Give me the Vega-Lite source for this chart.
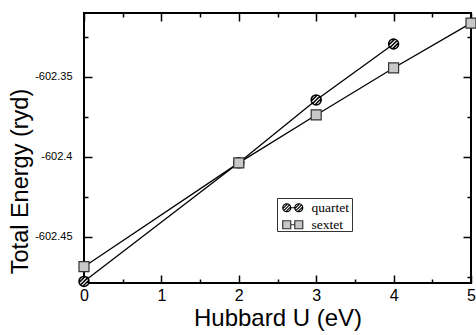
{
  "$schema": "https://vega.github.io/schema/vega-lite/v6.json",
  "width": 387,
  "height": 270,
  "autosize": "none",
  "padding": {"left": 84, "top": 13, "right": 5, "bottom": 52},
  "background": "white",
  "config": {
    "view": {"stroke": "black", "strokeWidth": 2},
    "axis": {"domain": false, "grid": false, "labelColor": "black", "titleColor": "black", "tickColor": "black", "titleFontWeight": "normal", "labelFont": "Liberation Sans", "titleFont": "Liberation Sans", "labelFlush": false, "labelOverlap": false},
    "legend": {"orient": "none", "symbolSize": 64, "symbolOffset": 6, "labelOffset": 12, "labelFont": "Liberation Serif", "labelFontSize": 13.5, "labelColor": "black", "symbolStrokeColor": "black", "symbolStrokeWidth": 1.2, "padding": 3}
  },
  "data": {
    "values": [
      {"series": "quartet", "U": 0, "E": -602.478},
      {"series": "quartet", "U": 2, "E": -602.4038},
      {"series": "quartet", "U": 3, "E": -602.3644},
      {"series": "quartet", "U": 4, "E": -602.3294},
      {"series": "sextet", "U": 0, "E": -602.4688},
      {"series": "sextet", "U": 2, "E": -602.4038},
      {"series": "sextet", "U": 3, "E": -602.3738},
      {"series": "sextet", "U": 4, "E": -602.3444},
      {"series": "sextet", "U": 5, "E": -602.3163}
    ]
  },
  "resolve": {"axis": {"x": "independent", "y": "independent"}, "scale": {"fill": "independent"}, "legend": {"fill": "independent"}},
  "layer": [
    {
      "mark": {"type": "line", "color": "black", "strokeWidth": 1.3},
      "encoding": {
        "x": {"field": "U", "type": "quantitative", "scale": {"domain": [0, 5], "nice": false, "zero": false},
          "axis": {"orient": "bottom", "values": [0, 1, 2, 3, 4, 5], "ticks": false, "tickSize": 0, "labelPadding": 4, "labelFontSize": 16, "title": "Hubbard U (eV)", "titleFontSize": 24, "titlePadding": 3}},
        "y": {"field": "E", "type": "quantitative", "scale": {"domain": [-602.479, -602.31], "nice": false, "zero": false},
          "axis": {"orient": "left", "values": [-602.45, -602.4, -602.35], "ticks": false, "tickSize": 0, "labelPadding": 12, "labelFontSize": 11, "labelExpr": "'' + datum.value", "title": "Total Energy (ryd)", "titleFontSize": 23.5, "titleX": -52, "titleY": 168}},
        "detail": {"field": "series", "type": "nominal"}
      }
    },
    {
      "transform": [{"filter": "datum.series === 'quartet'"}],
      "mark": {"type": "point", "filled": true, "stroke": "black", "strokeWidth": 1.5, "size": 100, "opacity": 1, "shape": "M-1,0A1,1,0,1,1,1,0A1,1,0,1,1,-1,0Z M-0.707,0.707L0.707,-0.707 M-0.218,0.976L0.976,-0.218 M-0.976,0.218L0.218,-0.976"},
      "encoding": {
        "x": {"field": "U", "type": "quantitative", "axis": {"orient": "top", "values": [0, 1, 2, 3, 4, 5], "labels": false, "tickSize": -8, "tickWidth": 1.5, "title": null}},
        "y": {"field": "E", "type": "quantitative", "axis": {"orient": "right", "values": [-602.45, -602.4, -602.35], "labels": false, "tickSize": -8, "tickWidth": 1.5, "title": null}},
        "fill": {"field": "series", "type": "nominal", "scale": {"domain": ["quartet"], "range": ["white"]},
          "legend": {"legendX": 193, "legendY": 185, "title": " ", "titleOrient": "bottom", "titleFontSize": 12, "titlePadding": 3, "strokeColor": "#333", "fillColor": "white", "symbolType": "M-2.5,0A1,1,0,1,1,-0.5,0A1,1,0,1,1,-2.5,0Z M-2.207,0.707L-0.793,-0.707 M-1.718,0.976L-0.524,-0.218 M-2.476,0.218L-1.282,-0.976 M-0.5,0L0.5,0 M0.5,0A1,1,0,1,1,2.5,0A1,1,0,1,1,0.5,0Z M0.793,0.707L2.207,-0.707 M1.282,0.976L2.476,-0.218 M0.524,0.218L1.718,-0.976"}}
      }
    },
    {
      "transform": [{"filter": "datum.series === 'sextet'"}],
      "mark": {"type": "point", "filled": true, "stroke": "#333", "strokeWidth": 1.2, "size": 100, "opacity": 1, "shape": "square"},
      "encoding": {
        "x": {"field": "U", "type": "quantitative", "axis": null},
        "y": {"field": "E", "type": "quantitative", "axis": null},
        "fill": {"field": "series", "type": "nominal", "scale": {"domain": ["sextet"], "range": ["#c8c8c8"]},
          "legend": {"legendX": 193, "legendY": 202, "title": null, "symbolStrokeColor": "#333", "symbolType": "M-2.5,-1H-0.5V1H-2.5Z M-0.5,0H0.5 M0.5,-1H2.5V1H0.5Z"}}
      }
    },
    {
      "mark": {"type": "point", "opacity": 0},
      "encoding": {
        "x": {"field": "U", "type": "quantitative", "axis": {"orient": "bottom", "values": [0, 1, 2, 3, 4, 5], "labels": false, "tickSize": -8, "tickWidth": 1.5, "title": null}},
        "y": {"field": "E", "type": "quantitative", "axis": {"orient": "left", "values": [-602.45, -602.4, -602.35], "labels": false, "tickSize": -8, "tickWidth": 1.5, "title": null}}
      }
    },
    {
      "mark": {"type": "point", "opacity": 0},
      "encoding": {
        "x": {"field": "U", "type": "quantitative", "axis": {"orient": "bottom", "values": [0.5, 1.5, 2.5, 3.5, 4.5], "labels": false, "tickSize": -4, "tickWidth": 1.5, "title": null}},
        "y": {"field": "E", "type": "quantitative", "axis": {"orient": "left", "values": [-602.475, -602.425, -602.375, -602.325], "labels": false, "tickSize": -4, "tickWidth": 1.5, "title": null}}
      }
    },
    {
      "mark": {"type": "point", "opacity": 0},
      "encoding": {
        "x": {"field": "U", "type": "quantitative", "axis": {"orient": "top", "values": [0.5, 1.5, 2.5, 3.5, 4.5], "labels": false, "tickSize": -4, "tickWidth": 1.5, "title": null}},
        "y": {"field": "E", "type": "quantitative", "axis": {"orient": "right", "values": [-602.475, -602.425, -602.375, -602.325], "labels": false, "tickSize": -4, "tickWidth": 1.5, "title": null}}
      }
    }
  ]
}
